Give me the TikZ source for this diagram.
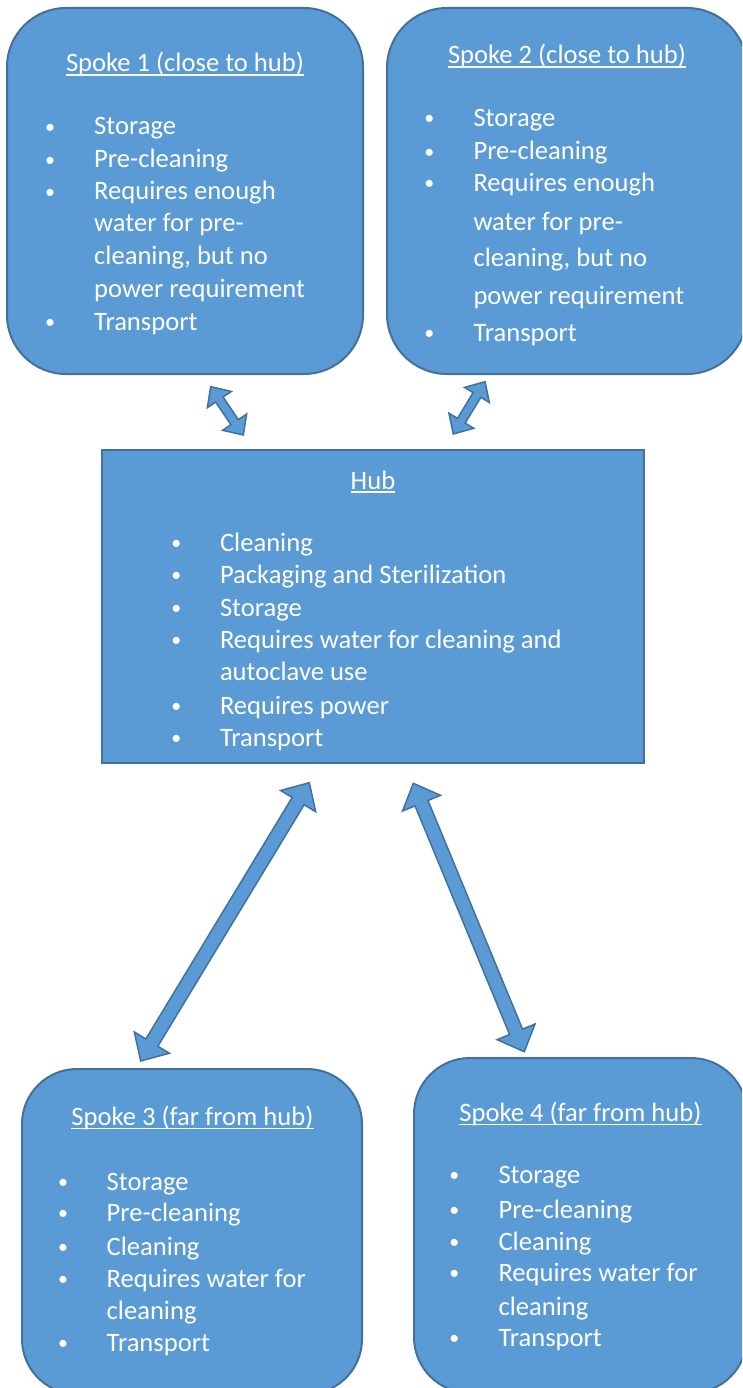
\documentclass[tikz,border=0pt]{standalone}
\usepackage{fontspec}
\setmainfont{Carlito}
\usetikzlibrary{calc}
\definecolor{boxfill}{HTML}{5B9BD5}
\definecolor{boxline}{HTML}{41719C}
% double block arrow between two named points: #1,#2 tips, #3 head length, #4 head half width, #5 shaft half width
\newcommand\dblarrow[5]{%
  \filldraw[arrowshape] (#1)
    -- ($(#1)!#3!(#2)!#4!90:(#2)$) -- ($(#1)!#3!(#2)!#5!90:(#2)$)
    -- ($(#2)!#3!(#1)!#5!-90:(#1)$) -- ($(#2)!#3!(#1)!#4!-90:(#1)$)
    -- (#2)
    -- ($(#2)!#3!(#1)!#4!90:(#1)$) -- ($(#2)!#3!(#1)!#5!90:(#1)$)
    -- ($(#1)!#3!(#2)!#5!-90:(#2)$) -- ($(#1)!#3!(#2)!#4!-90:(#2)$)
    -- cycle;}
\begin{document}
\begin{tikzpicture}[x=1pt,y=-1pt,
  box/.style={draw=boxline, fill=boxfill, line width=2pt, inner sep=0pt},
  arrowshape/.style={draw=boxline, fill=boxfill, line width=1.5pt, line join=miter},
  txt/.style={text=white, inner sep=0pt, font=\fontsize{26.6}{31}\selectfont},
  title/.style={txt, anchor=base},
  item/.style={txt, anchor=base west},
  bul/.style={text=white, inner sep=0pt, anchor=base, yshift=1.8pt, font=\fontsize{20}{24}\selectfont},
  uline/.style={draw=white, line width=1.6pt}]
\clip (0,0) rectangle (742,1388);
\fill[white] (0,0) rectangle (742,1388);

% boxes
\node[box, rounded corners=59pt, minimum width=356pt, minimum height=366pt] (s1) at (185,191) {};
\node[box, rounded corners=60pt, minimum width=360pt, minimum height=366pt] (s2) at (567,191) {};
\node[box, minimum width=542pt, minimum height=313pt] (hub) at (373,606.5) {};
\node[box, rounded corners=55pt, minimum width=340pt, minimum height=325pt] (s3) at (192,1231.5) {};
\node[box, rounded corners=56pt, minimum width=333pt, minimum height=335pt] (s4) at (580.5,1225.5) {};

% Spoke 1
\node[title] (s1t) at (185,71.7) {Spoke 1 (close to hub)};
\draw[uline] ([yshift=-3.5pt]s1t.base west) -- ([yshift=-3.5pt]s1t.base east);
\node[bul] (s1b1) at (50,135) {•};
\node[item] (s1i1) at (94,135) {Storage};
\node[bul] (s1b2) at (50,168) {•};
\node[item] (s1i2) at (94,168) {Pre-cleaning};
\node[bul] (s1b3) at (50,200) {•};
\node[item] (s1i3) at (94,200) {Requires enough};
\node[item] (s1i4) at (94,232) {water for pre-};
\node[item] (s1i5) at (94,264) {cleaning, but no};
\node[item] (s1i6) at (94,297) {power requirement};
\node[bul] (s1b7) at (50,330) {•};
\node[item] (s1i7) at (94,330) {Transport};

% Spoke 2
\node[title] (s2t) at (567,63.3) {Spoke 2 (close to hub)};
\draw[uline] ([yshift=-3.5pt]s2t.base west) -- ([yshift=-3.5pt]s2t.base east);
\node[bul] (s2b1) at (429.3,126.7) {•};
\node[item] (s2i1) at (473.3,126.7) {Storage};
\node[bul] (s2b2) at (429.3,160) {•};
\node[item] (s2i2) at (473.3,160) {Pre-cleaning};
\node[bul] (s2b3) at (429.3,191.7) {•};
\node[item] (s2i3) at (473.3,191.7) {Requires enough};
\node[item] (s2i4) at (473.3,230) {water for pre-};
\node[item] (s2i5) at (473.3,266.7) {cleaning, but no};
\node[item] (s2i6) at (473.3,304) {power requirement};
\node[bul] (s2b7) at (429.3,341.7) {•};
\node[item] (s2i7) at (473.3,341.7) {Transport};

% Hub
\node[title] (hubt) at (373,489) {Hub};
\draw[uline] ([yshift=-3pt]hubt.base west) -- ([yshift=-3pt]hubt.base east);
\node[bul] (hb1) at (176.3,551.7) {•};
\node[item] (hi1) at (219.8,551.7) {Cleaning};
\node[bul] (hb2) at (176.3,583.3) {•};
\node[item] (hi2) at (219.8,583.3) {Packaging and Sterilization};
\node[bul] (hb3) at (176.3,616) {•};
\node[item] (hi3) at (219.8,616) {Storage};
\node[bul] (hb4) at (176.3,648.3) {•};
\node[item] (hi4) at (219.8,648.3) {Requires water for cleaning and};
\node[item] (hi5) at (219.8,680.7) {autoclave use};
\node[bul] (hb6) at (176.3,714) {•};
\node[item] (hi6) at (219.8,714) {Requires power};
\node[bul] (hb7) at (176.3,746) {•};
\node[item] (hi7) at (219.8,746) {Transport};

% Spoke 3
\node[title] (s3t) at (192.4,1125) {Spoke 3 (far from hub)};
\draw[uline] ([yshift=-3.5pt]s3t.base west) -- ([yshift=-3.5pt]s3t.base east);
\node[bul] (s3b1) at (63,1190) {•};
\node[item] (s3i1) at (106.5,1190) {Storage};
\node[bul] (s3b2) at (63,1221.7) {•};
\node[item] (s3i2) at (106.5,1221.7) {Pre-cleaning};
\node[bul] (s3b3) at (63,1255) {•};
\node[item] (s3i3) at (106.5,1255) {Cleaning};
\node[bul] (s3b4) at (63,1287.3) {•};
\node[item] (s3i4) at (106.5,1287.3) {Requires water for};
\node[item] (s3i5) at (106.5,1319.3) {cleaning};
\node[bul] (s3b6) at (63,1351.7) {•};
\node[item] (s3i6) at (106.5,1351.7) {Transport};

% Spoke 4
\node[title] (s4t) at (580.4,1121) {Spoke 4 (far from hub)};
\draw[uline] ([yshift=-3.5pt]s4t.base west) -- ([yshift=-3.5pt]s4t.base east);
\node[bul] (s4b1) at (454.3,1183.3) {•};
\node[item] (s4i1) at (498.3,1183.3) {Storage};
\node[bul] (s4b2) at (454.3,1218.3) {•};
\node[item] (s4i2) at (498.3,1218.3) {Pre-cleaning};
\node[bul] (s4b3) at (454.3,1250) {•};
\node[item] (s4i3) at (498.3,1250) {Cleaning};
\node[bul] (s4b4) at (454.3,1281.7) {•};
\node[item] (s4i4) at (498.3,1281.7) {Requires water for};
\node[item] (s4i5) at (498.3,1315) {cleaning};
\node[bul] (s4b6) at (454.3,1346.7) {•};
\node[item] (s4i6) at (498.3,1346.7) {Transport};

% arrow end points
\coordinate (a1) at (210.7,386.7);
\coordinate (b1) at (243.3,435);
\coordinate (a2) at (485,381.7);
\coordinate (b2) at (453.3,434);
\coordinate (a3) at (309.3,782.7);
\coordinate (b3) at (140.7,1061);
\coordinate (a4) at (413.3,783.3);
\coordinate (b4) at (524.3,1051.7);

\dblarrow{a1}{b1}{15.5pt}{14.5pt}{4.5pt}
\dblarrow{a2}{b2}{15.5pt}{14.5pt}{4.5pt}
\dblarrow{a3}{b3}{21.5pt}{20.5pt}{7pt}
\dblarrow{a4}{b4}{21.5pt}{20.5pt}{7pt}
\end{tikzpicture}
\end{document}
